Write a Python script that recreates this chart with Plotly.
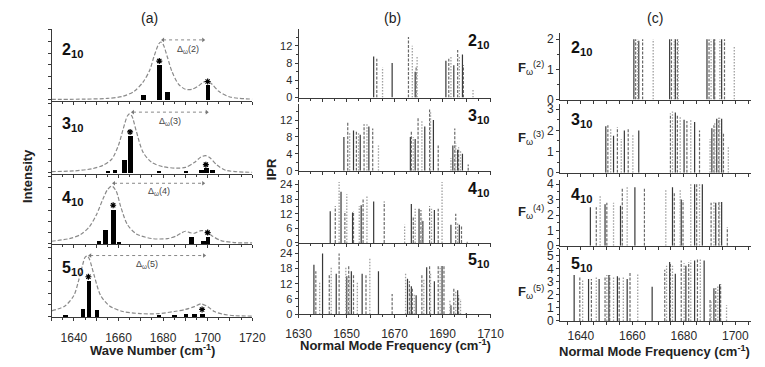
import plotly.graph_objects as go

W, H = 765, 367

# ---------------- DATA ----------------
row_names = ["2", "3", "4", "5"]

# Panel (a): stick spectra (black bars), marked bars (*), dashed envelope
a_bar_freq = [
    [1671.0, 1678.3, 1681.7, 1700.0],
    [1655.0, 1658.3, 1662.6, 1665.2, 1678.0, 1690.0, 1697.0, 1699.2, 1702.0],
    [1651.0, 1654.0, 1657.6, 1660.0, 1692.6, 1698.0, 1700.0],
    [1636.0, 1643.8, 1646.5, 1650.3, 1678.0, 1685.0, 1690.0, 1694.0, 1697.5],
]
a_bar_int = [
    [0.07, 0.49, 0.11, 0.20],
    [0.02, 0.04, 0.18, 0.53, 0.02, 0.01, 0.03, 0.06, 0.03],
    [0.04, 0.21, 0.51, 0.02, 0.10, 0.04, 0.10],
    [0.02, 0.11, 0.51, 0.10, 0.02, 0.02, 0.03, 0.03, 0.04],
]
a_star_freq = [[1678.3, 1700.0], [1665.2, 1699.2], [1657.6, 1700.0], [1646.5, 1697.5]]

a_env_freq = [
    [1630, 1645, 1655, 1662, 1667, 1671, 1674, 1676, 1678, 1679, 1680, 1682, 1684, 1687,
     1690, 1693, 1696, 1698, 1700, 1702, 1705, 1710, 1720],
    [1630, 1640, 1648, 1653, 1657, 1660, 1662, 1664, 1665, 1666, 1668, 1671, 1675, 1680,
     1686, 1690, 1694, 1697, 1699, 1701, 1704, 1708, 1720],
    [1630, 1638, 1643, 1647, 1650, 1653, 1655, 1657, 1659, 1661, 1664, 1668, 1675, 1682,
     1686, 1688, 1690, 1692, 1694, 1697, 1699, 1702, 1706, 1712, 1720],
    [1630, 1636, 1640, 1642, 1644, 1645, 1646, 1647, 1649, 1652, 1656, 1662, 1670, 1678,
     1685, 1690, 1694, 1697, 1700, 1703, 1707, 1712, 1720],
]
a_env_int = [
    [0.005, 0.01, 0.02, 0.05, 0.12, 0.25, 0.42, 0.62, 0.79, 0.82, 0.79, 0.60, 0.40, 0.22,
     0.15, 0.15, 0.20, 0.25, 0.26, 0.22, 0.12, 0.04, 0.01],
    [0.02, 0.03, 0.06, 0.11, 0.20, 0.40, 0.62, 0.82, 0.85, 0.82, 0.60, 0.30, 0.15, 0.09,
     0.07, 0.08, 0.15, 0.23, 0.25, 0.22, 0.12, 0.04, 0.01],
    [0.03, 0.07, 0.13, 0.25, 0.42, 0.66, 0.80, 0.86, 0.78, 0.55, 0.28, 0.14, 0.07, 0.07,
     0.11, 0.15, 0.18, 0.16, 0.15, 0.19, 0.18, 0.11, 0.04, 0.01, 0.005],
    [0.08, 0.15, 0.30, 0.50, 0.75, 0.85, 0.87, 0.82, 0.60, 0.30, 0.15, 0.07, 0.04, 0.04,
     0.07, 0.10, 0.14, 0.18, 0.14, 0.07, 0.03, 0.01, 0.005],
]
# splitting arrows Delta_omega(n): start, end, level
a_delta_from = [1680.0, 1666.5, 1658.0, 1647.3]
a_delta_to = [1698.0, 1699.6, 1698.0, 1698.4]
a_delta_level = [0.85, 0.875, 0.90, 0.875]

# Panel (b): IPR of normal modes
b_freq = [
    [1661.3, 1662.6, 1665.0, 1669.0, 1675.8, 1677.4, 1678.6, 1679.0, 1679.4, 1691.4, 1692.6,
     1693.5, 1694.7, 1696.3, 1697.0, 1698.3, 1698.7, 1702.7],
    [1648.9, 1650.5, 1651.3, 1652.9, 1654.1, 1655.0, 1655.7, 1657.3, 1658.5, 1659.3, 1660.9,
     1663.3, 1676.6, 1677.0, 1677.8, 1678.6, 1679.8, 1681.4, 1682.6, 1684.6, 1685.0, 1686.2,
     1688.2, 1693.5, 1694.3, 1695.1, 1695.5, 1696.3, 1696.7, 1697.5, 1698.3, 1700.7],
    [1643.2, 1645.3, 1646.9, 1647.7, 1649.3, 1650.1, 1652.5, 1652.9, 1655.3, 1656.1, 1656.9,
     1658.5, 1661.3, 1665.7, 1674.2, 1677.0, 1677.8, 1678.6, 1680.2, 1681.0, 1681.4, 1681.8,
     1684.6, 1685.4, 1686.6, 1688.2, 1689.8, 1693.5, 1695.5, 1696.3, 1697.0, 1697.9, 1700.3],
    [1636.4, 1637.2, 1638.8, 1640.0, 1642.8, 1643.6, 1645.7, 1646.9, 1649.7, 1650.1, 1650.9,
     1651.3, 1652.0, 1652.9, 1654.5, 1656.5, 1658.1, 1659.7, 1663.3, 1669.0, 1674.6, 1675.4,
     1676.2, 1676.6, 1677.0, 1677.4, 1678.2, 1679.0, 1681.4, 1682.2, 1683.4, 1684.6, 1685.0,
     1686.6, 1688.2, 1689.0, 1689.8, 1690.6, 1693.1, 1693.5, 1694.7, 1695.5, 1696.3, 1696.7,
     1697.5, 1699.9],
]
b_ipr = [
    [9.5, 9, 7, 8, 14, 12, 6, 7, 9.5, 8.5, 9, 9.5, 7.5, 11, 9.5, 10, 7.5, 2],
    [8, 11.5, 9, 9.5, 9.5, 9, 8.5, 11, 11, 10.5, 10, 6, 8, 9.5, 8, 7.5, 12.5, 12, 10.5, 14.5,
     14, 12, 6, 3, 6, 10, 6.5, 5, 5.5, 5, 4, 1.5],
    [13, 15, 25, 21, 13, 20, 12.5, 13, 15, 15.5, 18, 19.5, 17, 17, 7.5, 16, 11, 14, 14, 13.5,
     10, 9, 15, 14, 13.5, 14, 25, 7.5, 12, 8.5, 7.5, 7, 0.5],
    [19.5, 17, 12.5, 24, 15.5, 18.5, 16, 24, 18.5, 15, 19.5, 15, 17, 16, 13, 16, 16, 22, 17, 8,
     16, 14, 13, 9, 11, 10, 8, 7.5, 16, 14, 18.5, 19.5, 16, 13, 19, 19, 19, 19, 5.5, 3.5, 10,
     9.5, 9.5, 7.5, 6, 0.5],
]
b_yticks = [[0, 4, 8, 12], [0, 4, 8, 12], [0, 6, 12, 18, 24], [0, 6, 12, 18, 24]]

# Panel (c): F_omega^(n)
c_freq = [
    [1660.6, 1661.3, 1662.1, 1662.5, 1664.0, 1668.1, 1674.5, 1675.2, 1676.3, 1676.7, 1677.5,
     1677.8, 1689.0, 1689.8, 1690.6, 1691.7, 1692.0, 1694.0, 1694.7, 1695.8, 1699.6],
    [1649.7, 1650.5, 1651.6, 1652.7, 1654.2, 1655.7, 1656.9, 1658.4, 1660.2, 1662.5, 1674.8,
     1675.6, 1676.7, 1677.5, 1678.6, 1680.1, 1681.2, 1682.7, 1684.2, 1686.1, 1690.2, 1690.9,
     1691.7, 1692.0, 1692.8, 1693.6, 1693.9, 1694.7, 1695.4, 1697.3],
    [1643.7, 1646.0, 1647.5, 1649.4, 1650.1, 1652.7, 1655.4, 1656.1, 1658.0, 1661.0, 1664.7,
     1673.0, 1675.6, 1676.3, 1678.6, 1679.0, 1679.7, 1682.7, 1684.2, 1685.0, 1686.1, 1687.2,
     1690.6, 1691.7, 1692.4, 1693.6, 1693.9, 1694.7, 1696.9],
    [1637.4, 1639.6, 1640.7, 1643.0, 1644.1, 1646.0, 1647.1, 1649.4, 1650.1, 1650.9, 1651.2,
     1652.7, 1654.2, 1654.9, 1656.5, 1658.0, 1659.1, 1662.1, 1667.7, 1672.6, 1673.3, 1674.5,
     1674.8, 1675.6, 1676.7, 1679.0, 1680.1, 1680.8, 1681.9, 1682.7, 1684.2, 1685.3, 1686.4,
     1687.9, 1690.2, 1690.6, 1691.7, 1692.4, 1693.2, 1693.9, 1694.3, 1696.6],
]
c_val = [
    [2, 2, 2, 1.95, 2, 2, 2, 2, 2, 2, 2, 2, 2, 2, 2, 2, 2, 2, 2, 2, 1.75],
    [2.2, 2.25, 2.1, 1.75, 2.15, 1.6, 2.0, 2.1, 1.8, 2.0, 2.8, 2.9, 2.85, 2.7, 2.7, 2.5, 2.45,
     2.5, 2.4, 2.0, 1.6, 2.1, 2.25, 2.4, 2.55, 2.6, 2.6, 2.55, 1.9, 1.25],
    [2.5, 2.5, 3.3, 2.7, 2.8, 2.8, 2.6, 3.8, 3.8, 3.8, 3.8, 3.7, 3.8, 3.5, 3.7, 3.0, 2.95, 4,
     4, 4, 4, 4, 2.8, 2.85, 2.8, 2.85, 2.85, 2.85, 1.2],
    [3.5, 3.4, 3.1, 3.2, 3.2, 3.4, 3.2, 3.4, 3.5, 3.5, 3.5, 3.4, 3.4, 3.3, 3.4, 3.2, 3.7, 3.6,
     2.6, 3.9, 4.2, 4.5, 4.4, 4.2, 3.6, 4.6, 4.4, 4.2, 4.5, 4.6, 4.6, 4.8, 4.7, 4.6, 1.7, 1.5,
     2.5, 2.5, 2.7, 2.8, 2.8, 1.2],
]
c_yticks = [[0, 1, 2], [0, 1, 2, 3], [0, 1, 2, 3, 4], [0, 1, 2, 3, 4, 5]]

# ---------------- LAYOUT GEOMETRY (pixels) ----------------
a_x = (40, 248, 1630, 1720)
b_x = (296, 495, 1630, 1710)
c_x = (567, 765, 1631.9, 1706.1)
a_rows_px = [(28, 101), (104, 176), (179, 248), (251, 323)]
b_rows_px = [(28, 98), (105, 173), (182, 247), (250, 320)]
c_rows_px = [(32, 100), (105, 175), (182, 250), (253, 327)]
b_ranges = [15.8, 15.7, 26.0, 27.0]
c_ranges = [2.2, 3.23, 4.3, 5.5]

FONT = "Liberation Sans, Arial, sans-serif"
AX = "#3a3a3a"
TXT = "#2a2a2a"

fig = go.Figure()
layout = dict(
    width=W, height=H, margin=dict(l=0, r=0, t=0, b=0),
    paper_bgcolor="white", plot_bgcolor="white", showlegend=False,
    font=dict(family=FONT, color=TXT, size=11),
)
annotations = []


def px2x(p):
    return p / W


def px2y(p):
    return 1 - p / H


def axis_name(k, kind):
    return f"{kind}axis" if k == 1 else f"{kind}axis{k}"


def ref(k, kind):
    return kind if k == 1 else f"{kind}{k}"


def note(px, py, text, size, color="#222", angle=0, xa="center"):
    annotations.append(dict(x=px2x(px), y=px2y(py), xref="paper", yref="paper",
                            xanchor=xa, yanchor="middle", showarrow=False,
                            text=text, textangle=angle,
                            font=dict(size=size, color=color)))


stick_styles = [
    dict(color="#383838", width=1.2, dash="solid"),
    dict(color="#6a6a6a", width=1.2, dash="3px,1.5px"),
    dict(color="#a0a0a0", width=1.3, dash="1.5px,1.5px"),
]


def add_sticks(k, freqs, vals):
    for s, st in enumerate(stick_styles):
        xs, ys = [], []
        for i, (f, v) in enumerate(zip(freqs, vals)):
            if i % 3 == s:
                xs += [f, f, None]
                ys += [0, v, None]
        fig.add_trace(go.Scatter(x=xs, y=ys, mode="lines", line=st,
                                 xaxis=ref(k, "x"), yaxis=ref(k, "y"),
                                 hoverinfo="skip"))


for col in range(3):
    for r in range(4):
        k = col * 4 + r + 1
        bottom = (r == 3)
        if col == 0:
            x0, x1, f0, f1 = a_x
            top, bot = a_rows_px[r]
            tv = list(range(1630, 1721, 10))
            tt = [str(v) if (bottom and v in (1640, 1660, 1680, 1700, 1720)) else ""
                  for v in tv]
            yaxis = dict(range=[-0.01, 1.0], tickvals=[i * 0.166 for i in range(7)],
                         showticklabels=False)
            minor_x = dict(dtick=5, ticks="outside", ticklen=2, tickcolor=AX)
            standoff = 7
        elif col == 1:
            x0, x1, f0, f1 = b_x
            top, bot = b_rows_px[r]
            tv = list(range(1630, 1711, 10))
            tt = [str(v) if (bottom and (v - 1630) % 20 == 0) else "" for v in tv]
            yaxis = dict(range=[0, b_ranges[r]], tickvals=b_yticks[r],
                         minor=dict(dtick=(2 if r < 2 else 3), ticks="outside",
                                    ticklen=2, tickcolor=AX),
                         tickfont=dict(size=11, color=TXT))
            minor_x = dict(dtick=5, ticks="outside", ticklen=2, tickcolor=AX)
            standoff = 5
        else:
            x0, x1, f0, f1 = c_x
            top, bot = c_rows_px[r]
            tv = list(range(1635, 1706, 5))
            tt = [str(v) if (bottom and v in (1640, 1660, 1680, 1700)) else "" for v in tv]
            yaxis = dict(range=[0, c_ranges[r]], tickvals=c_yticks[r],
                         minor=dict(dtick=0.5, ticks="outside", ticklen=2, tickcolor=AX),
                         tickfont=dict(size=12, color=TXT))
            minor_x = None
            standoff = 1
        xaxis = dict(domain=[px2x(x0), px2x(x1)], range=[f0, f1],
                     tickvals=tv, ticktext=tt, ticks="outside", ticklen=3,
                     tickcolor=AX, showline=True, linecolor=AX, linewidth=1,
                     showgrid=False, zeroline=False, anchor=ref(k, "y"),
                     ticklabelstandoff=standoff,
                     tickfont=dict(size=12, color=TXT))
        if minor_x:
            xaxis["minor"] = minor_x
        yaxis.update(domain=[px2y(bot), px2y(top)], ticks="outside", ticklen=3,
                     tickcolor=AX, showline=True, linecolor=AX, linewidth=1,
                     showgrid=False, zeroline=False, anchor=ref(k, "x"))
        layout[axis_name(k, "x")] = xaxis
        layout[axis_name(k, "y")] = yaxis

        name = row_names[r]
        label = f"<b>{name}<sub>10</sub></b>"
        if col == 0:
            fig.add_trace(go.Scatter(x=a_env_freq[r], y=a_env_int[r], mode="lines",
                                     line=dict(color="#8a8a8a", width=1.2, dash="4px,2px",
                                               shape="spline", smoothing=0.8),
                                     xaxis=ref(k, "x"), yaxis=ref(k, "y"), hoverinfo="skip"))
            fig.add_trace(go.Bar(x=a_bar_freq[r], y=a_bar_int[r], width=2.0,
                                 marker=dict(color="black", line=dict(width=0)),
                                 xaxis=ref(k, "x"), yaxis=ref(k, "y"), hoverinfo="skip"))
            sx, sy = [], []
            for f in a_star_freq[r]:
                i = a_bar_freq[r].index(f)
                sx.append(f)
                sy.append(a_bar_int[r][i] + 0.06)
            fig.add_trace(go.Scatter(x=sx, y=sy, mode="markers",
                                     marker=dict(symbol="asterisk", size=5,
                                                 line=dict(color="black", width=1.2)),
                                     xaxis=ref(k, "x"), yaxis=ref(k, "y"), hoverinfo="skip"))
            lv = a_delta_level[r]
            fig.add_trace(go.Scatter(x=[a_delta_from[r], a_delta_to[r]], y=[lv, lv],
                                     mode="lines", line=dict(color="#888", width=1, dash="dot"),
                                     xaxis=ref(k, "x"), yaxis=ref(k, "y"), hoverinfo="skip"))
            fig.add_trace(go.Scatter(x=[a_delta_from[r], a_delta_to[r]], y=[lv, lv],
                                     mode="markers",
                                     marker=dict(symbol=["triangle-left", "triangle-right"],
                                                 size=4, color="#777"),
                                     xaxis=ref(k, "x"), yaxis=ref(k, "y"), hoverinfo="skip"))
            annotations.append(dict(
                x=(a_delta_from[r] + a_delta_to[r]) / 2 + (2 if r == 0 else 0),
                y=lv - 0.13, xref=ref(k, "x"), yref=ref(k, "y"), xanchor="center",
                yanchor="middle", text=f"Δ<sub>ω</sub>({name})", showarrow=False,
                font=dict(size=9, color="#444")))
            note(49, top + 22, label, 16, "#111", xa="left")
        elif col == 1:
            add_sticks(k, b_freq[r], b_ipr[r])
            note(470, [40, 117, 192, 265][r], label, 16, "#111", xa="left")
        else:
            add_sticks(k, c_freq[r], c_val[r])
            note(576, top + 16, label, 16, "#111", xa="left")
            note(521, [68, 139, 215, 297][r],
                 f"<b>F</b><sub>ω</sub><sup>({name})</sup>", 13, "#222", xa="left")

# titles
note(142, 16, "(a)", 14)
note(393, 16, "(b)", 14)
note(665, 16, "(c)", 14)
note(145, 357, "<b>Wave Number (cm<sup>-1</sup>)</b>", 13)
note(396, 352, "<b>Normal Mode Frequency (cm<sup>-1</sup>)</b>", 13)
note(665, 358, "<b>Normal Mode Frequency (cm<sup>-1</sup>)</b>", 13)
note(15, 178, "<b>Intensity</b>", 13, angle=-90)
note(268, 172, "<b>IPR</b>", 13, angle=-90)

layout["annotations"] = annotations
layout["bargap"] = 0
fig.update_layout(**layout)
fig.write_html("out.html")
